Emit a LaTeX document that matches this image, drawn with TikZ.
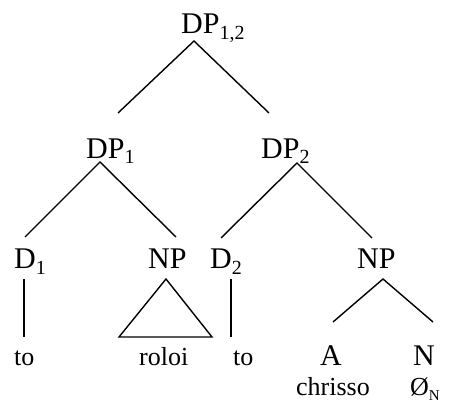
\documentclass[tikz,border=0pt]{standalone}
\usepackage{fontspec}
\setmainfont{Liberation Serif}
\newcommand{\catfont}{\fontsize{30}{33}\selectfont}
\newcommand{\leaffont}{\fontsize{26}{29}\selectfont}
\newcommand{\subsc}[1]{\raisebox{-0.2em}{\fontsize{20}{21}\selectfont #1}}
\tikzset{
  cat/.style={anchor=base west, inner sep=0pt, font=\catfont},
  leaf/.style={anchor=base west, inner sep=0pt, font=\leaffont},
  branch/.style={line width=1.4pt, line cap=butt}
}
\begin{document}
\begin{tikzpicture}[x=1pt,y=-1pt]
\useasboundingbox (0,0) rectangle (455,401);
% labels
\node[cat] (dp12) at (181,34) {DP\subsc{1,2}};
\node[cat] (dp1) at (86,158) {DP\subsc{1}};
\node[cat] (dp2) at (261,158) {DP\subsc{2}};
\node[cat] (d1) at (14,268) {D\subsc{1}};
\node[cat] (np1) at (148,268) {NP};
\node[cat] (d2) at (210,268) {D\subsc{2}};
\node[cat] (np2) at (357,268) {NP};
\node[leaf] (to1) at (14,365) {to};
\node[leaf] (roloi) at (139,365) {roloi};
\node[leaf] (to2) at (233,365) {to};
\node[cat] (a) at (320,365) {A};
\node[cat] (n) at (413,365) {N};
\node[leaf] (chrisso) at (296,395) {chrisso};
\node[leaf] (zero) at (410,395) {Ø\raisebox{-0.2em}{\fontsize{15}{16}\selectfont N}};
% connector end points
\coordinate (t0) at (194,41);
\coordinate (tl) at (118,113);
\coordinate (tr) at (269,113);
\coordinate (l0) at (100,162);
\coordinate (ll) at (25,237);
\coordinate (lr) at (176,237);
\coordinate (r0) at (297,163);
\coordinate (rl) at (221,238);
\coordinate (rr) at (372,238);
\coordinate (v1a) at (24,279);
\coordinate (v1b) at (24,337);
\coordinate (tria) at (166,279);
\coordinate (trib) at (119,337);
\coordinate (tric) at (212,337);
\coordinate (v2a) at (231,279);
\coordinate (v2b) at (231,337);
\coordinate (n0) at (383,279);
\coordinate (nl) at (333,322);
\coordinate (nr) at (433,322);
% branches
\draw[branch] (tl) -- (t0) -- (tr);
\draw[branch] (ll) -- (l0) -- (lr);
\draw[branch] (rl) -- (r0) -- (rr);
\draw[branch] (v1a) -- (v1b);
\draw[branch, line join=miter] (tria) -- (trib) -- (tric) -- cycle;
\draw[branch] (v2a) -- (v2b);
\draw[branch] (nl) -- (n0) -- (nr);
\end{tikzpicture}
\end{document}
